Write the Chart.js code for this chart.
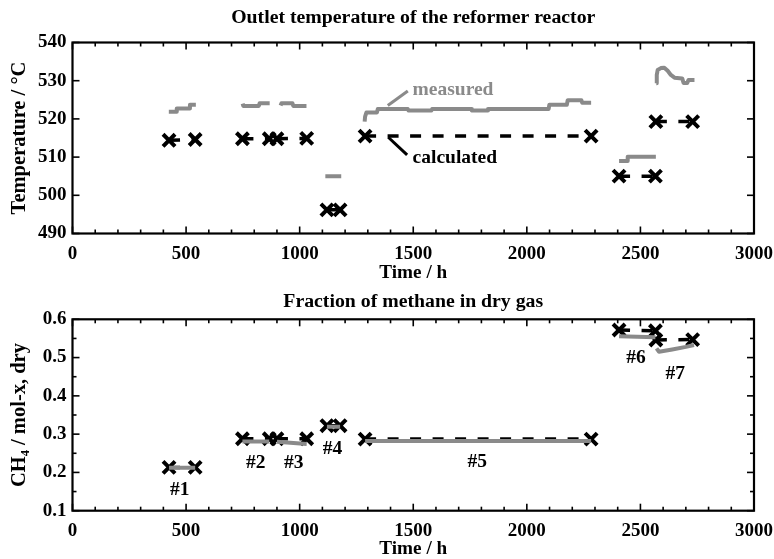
<!DOCTYPE html>
<html>
<head>
<meta charset="utf-8">
<script src="https://cdn.jsdelivr.net/npm/chart.js@4/dist/chart.umd.min.js"></script>
<style>
  html, body { margin: 0; padding: 0; background: #fff; overflow: hidden; }
  #wrap { position: relative; width: 774px; height: 559px; overflow: hidden; }
  canvas { position: absolute; left: 0; }
  #c1 { top: 0; }
  #c2 { top: 287px; }
</style>
</head>
<body>
<div id="wrap">
  <canvas id="c1" width="774" height="287"></canvas>
  <canvas id="c2" width="774" height="275"></canvas>
</div>
<script>
// ---------------- DATA ----------------
const runNames = ['#1', '#2', '#3', '#4', '#5', '#6', '#7'];
const runStart = [425, 748, 900, 1120, 1288, 2406, 2568];
const runEnd   = [540, 866, 1031, 1178, 2283, 2566, 2730];

// calculated outlet temperature (°C) at start / end of each run
const calcTempStart = [514.4, 514.8, 514.8, 496.2, 515.5, 505.0, 519.3];
const calcTempEnd   = [514.6, 514.8, 514.9, 496.2, 515.5, 505.0, 519.3];

// calculated CH4 fraction at start / end of each run
const calcCH4Start = [0.213, 0.288, 0.288, 0.322, 0.287, 0.572, 0.546];
const calcCH4End   = [0.213, 0.288, 0.288, 0.322, 0.287, 0.570, 0.547];

// measured outlet temperature (null = gap between runs)
const measTempTime = [
  424, 456, 459, 514, 517, 543, 600,
  749, 752, 820, 824, 868, 890,
  916, 920, 968, 972, 1030, 1070,
  1113, 1183, 1230,
  1286, 1288, 1294, 1340, 1344, 1476, 1479, 1580, 1583, 1755, 1758, 1826, 1829, 2096, 2099, 2176, 2180, 2240, 2244, 2283, 2350,
  2406, 2441, 2444, 2568, 2569,
  2570, 2572, 2576, 2590, 2605, 2620, 2634, 2650, 2684, 2690, 2706, 2712, 2738
];
const measTempValue = [
  521.9, 521.9, 522.7, 522.7, 523.7, 523.7, null,
  524.0, 523.4, 523.4, 524.1, 524.1, null,
  523.5, 524.1, 524.1, 523.4, 523.4, null,
  505.0, 505.0, null,
  519.3, 520.6, 521.7, 521.7, 522.6, 522.6, 522.2, 522.2, 522.6, 522.6, 522.2, 522.2, 522.6, 522.6, 523.7, 523.7, 524.9, 524.9, 524.2, 524.2, null,
  509.0, 509.0, 510.1, 510.1, null,
  529.3, 531.5, 532.8, 533.3, 533.4, 532.6, 531.5, 530.8, 530.6, 529.4, 529.4, 530.2, 530.2
];

// measured CH4 fraction in dry gas (null = gap between runs)
const measCH4Time = [
  425, 540, 600,
  748, 866, 883,
  900, 1031, 1070,
  1120, 1178, 1230,
  1288, 2283, 2350,
  2406, 2566, 2568,
  2571, 2582, 2640, 2700, 2736
];
const measCH4Value = [
  0.212, 0.212, null,
  0.281, 0.281, null,
  0.280, 0.274, null,
  0.319, 0.319, null,
  0.282, 0.282, null,
  0.556, 0.553, null,
  0.524, 0.515, 0.521, 0.528, 0.533
];

// axis ticks
const timeTicks = [0, 500, 1000, 1500, 2000, 2500, 3000];
const tempTicks = [490, 500, 510, 520, 530, 540];
const ch4Ticks  = [0.1, 0.2, 0.3, 0.4, 0.5, 0.6];

// annotations
const tempNoteText  = ['measured', 'calculated'];
const tempNoteTime  = [1497, 1497];
const tempNoteValue = [527.6, 509.8];
const tempLeaderFromTime  = [1476, 1473];
const tempLeaderFromValue = [527.3, 510.6];
const tempLeaderToTime    = [1388, 1390];
const tempLeaderToValue   = [523.5, 515.2];

const runLabelTime = [472, 807, 974, 1145, 1782, 2481, 2653];
const runLabelCH4  = [0.154, 0.225, 0.225, 0.262, 0.227, 0.499, 0.457];

// ---------------- STYLE ----------------
const FONT = "'Liberation Serif', 'Times New Roman', 'DejaVu Serif', serif";
const GRAY = '#8a8a8a';

function pairsToPoints(xs, ys) {
  return xs.map((x, i) => ({ x: x, y: ys[i] }));
}
function calcPoints(starts, ends, vStart, vEnd) {
  const pts = [];
  for (let i = 0; i < starts.length; i++) {
    pts.push({ x: starts[i], y: vStart[i] });
    pts.push({ x: ends[i], y: vEnd[i] });
    pts.push({ x: (ends[i] + (starts[i + 1] || ends[i] + 2)) / 2, y: null });
  }
  return pts;
}

const frameTicks = {
  id: 'frameTicks',
  beforeDatasetsDraw(chart, args, opts) {
    const { ctx, chartArea: a, scales } = chart;
    const x = scales.x, y = scales.y;
    ctx.save();
    ctx.strokeStyle = '#000';
    ctx.lineWidth = 1.6;
    const line = (x1, y1, x2, y2) => { ctx.beginPath(); ctx.moveTo(x1, y1); ctx.lineTo(x2, y2); ctx.stroke(); };
    for (let k = 0; ; k++) {
      const v = x.min + k * opts.xMinor;
      if (v > x.max + 1e-9) break;
      const p = x.getPixelForValue(v);
      const r = v / opts.xMajor;
      const len = Math.abs(r - Math.round(r)) < 1e-6 ? 7 : 4;
      line(p, a.bottom, p, a.bottom - len);
      line(p, a.top, p, a.top + len);
    }
    for (let k = 0; ; k++) {
      const v = y.min + k * opts.yMinor;
      if (v > y.max + 1e-9) break;
      const p = y.getPixelForValue(v);
      const r = v / opts.yMajor;
      const len = Math.abs(r - Math.round(r)) < 1e-6 ? 7 : 4;
      line(a.left, p, a.left + len, p);
      line(a.right, p, a.right - len, p);
    }
    ctx.lineWidth = 2.2;
    ctx.strokeRect(a.left, a.top, a.right - a.left, a.bottom - a.top);
    ctx.restore();
  }
};

const notes = {
  id: 'notes',
  afterDatasetsDraw(chart, args, opts) {
    const { ctx, chartArea: a, scales: { x, y } } = chart;
    ctx.save();
    // chart title, centred over the plot area
    ctx.fillStyle = '#000';
    ctx.font = 'bold 19.8px ' + FONT;
    ctx.textAlign = 'center';
    ctx.textBaseline = 'middle';
    ctx.fillText(opts.title, (a.left + a.right) / 2, opts.titleY);
    (opts.lines || []).forEach(l => {
      ctx.strokeStyle = l.color; ctx.lineWidth = 3; ctx.lineCap = 'butt';
      ctx.beginPath();
      ctx.moveTo(x.getPixelForValue(l.x1), y.getPixelForValue(l.y1));
      ctx.lineTo(x.getPixelForValue(l.x2), y.getPixelForValue(l.y2));
      ctx.stroke();
    });
    (opts.texts || []).forEach(t => {
      ctx.fillStyle = t.color;
      ctx.font = 'bold 19.5px ' + FONT;
      ctx.textAlign = t.align || 'center';
      ctx.textBaseline = 'middle';
      ctx.fillText(t.text, x.getPixelForValue(t.x), y.getPixelForValue(t.y));
    });
    ctx.restore();
  }
};

function makeChart(id, cfg) {
  const tickFont = { family: FONT, size: 19, weight: 'bold' };
  const xTitleFont = { family: FONT, size: 19.2, weight: 'bold' };
  const yTitleFont = { family: FONT, size: 20.5, weight: 'bold' };
  return new Chart(document.getElementById(id), {
    type: 'line',
    data: { datasets: cfg.datasets },
    plugins: [frameTicks, notes],
    options: {
      responsive: false,
      animation: false,
      devicePixelRatio: 1,
      layout: { padding: { left: 0, right: 20, top: cfg.plotTop, bottom: 0 } },
      plugins: {
        legend: { display: false },
        tooltip: { enabled: false },
        title: { display: false },
        frameTicks: cfg.frame,
        notes: Object.assign({ title: cfg.title, titleY: cfg.titleY }, cfg.notes)
      },
      scales: {
        x: {
          type: 'linear', min: 0, max: 3000,
          afterBuildTicks: s => { s.ticks = timeTicks.map(v => ({ value: v })); },
          afterFit: s => { s.height = cfg.xHeight; s.paddingLeft = 0; s.paddingRight = 0; },
          grid: { display: false, drawTicks: false },
          border: { display: false },
          ticks: { color: '#000', font: tickFont, padding: 9, maxRotation: 0, autoSkip: false, callback: v => String(v) },
          title: { display: true, text: 'Time / h', color: '#000', font: xTitleFont, padding: { top: 0, bottom: cfg.xTitleBottom } }
        },
        y: {
          type: 'linear', min: cfg.yMin, max: cfg.yMax,
          afterBuildTicks: s => { s.ticks = cfg.yTicks.map(v => ({ value: v })); },
          afterFit: s => { s.width = 72.5; s.paddingTop = 0; s.paddingBottom = 0; },
          grid: { display: false, drawTicks: false },
          border: { display: false },
          ticks: { color: '#000', font: tickFont, padding: 6, autoSkip: false, callback: cfg.yFmt },
          title: { display: true, text: cfg.yTitle, color: '#000', font: yTitleFont, padding: { top: 7.5, bottom: 0 } }
        }
      }
    }
  });
}

const measStyle = {
  borderColor: GRAY, borderWidth: 4, pointRadius: 0, borderJoinStyle: 'round',
  borderCapStyle: 'butt', spanGaps: false, tension: 0, fill: false
};
const calcStyle = {
  borderColor: '#000', borderWidth: 3.5, borderDash: [11, 11.5], spanGaps: false,
  pointStyle: 'crossRot', pointRadius: 8.5, pointBorderWidth: 4,
  pointBorderColor: '#000', pointBackgroundColor: '#000', tension: 0, fill: false
};

makeChart('c1', {
  title: 'Outlet temperature of the reformer reactor',
  titleY: 18, plotTop: 42.5,
  xHeight: 53.5, xTitleBottom: 2,
  yMin: 490, yMax: 540, yTicks: tempTicks, yFmt: v => String(v),
  yTitle: 'Temperature / °C',
  frame: { xMinor: 100, xMajor: 500, yMinor: 10, yMajor: 10 },
  notes: {
    texts: tempNoteText.map((t, i) => ({ text: t, x: tempNoteTime[i], y: tempNoteValue[i], align: 'left', color: i === 0 ? GRAY : '#000' })),
    lines: tempNoteText.map((t, i) => ({ x1: tempLeaderFromTime[i], y1: tempLeaderFromValue[i], x2: tempLeaderToTime[i], y2: tempLeaderToValue[i], color: i === 0 ? GRAY : '#000' }))
  },
  datasets: [
    Object.assign({ label: 'measured', data: pairsToPoints(measTempTime, measTempValue) }, measStyle),
    Object.assign({ label: 'calculated', data: calcPoints(runStart, runEnd, calcTempStart, calcTempEnd) }, calcStyle)
  ]
});

makeChart('c2', {
  title: 'Fraction of methane in dry gas',
  titleY: 15, plotTop: 32.3,
  xHeight: 51.3, xTitleBottom: 1.3,
  yMin: 0.1, yMax: 0.6, yTicks: ch4Ticks, yFmt: v => Number(v).toFixed(1),
  yTitle: 'CH\u2084 / mol-x, dry',
  frame: { xMinor: 100, xMajor: 500, yMinor: 0.05, yMajor: 0.1 },
  notes: {
    texts: runNames.map((n, i) => ({ text: n, x: runLabelTime[i], y: runLabelCH4[i], align: 'center', color: '#000' })),
    lines: []
  },
  datasets: [
    Object.assign({ label: 'measured', data: pairsToPoints(measCH4Time, measCH4Value) }, measStyle),
    Object.assign({ label: 'calculated', data: calcPoints(runStart, runEnd, calcCH4Start, calcCH4End) }, calcStyle)
  ]
});
</script>
</body>
</html>
